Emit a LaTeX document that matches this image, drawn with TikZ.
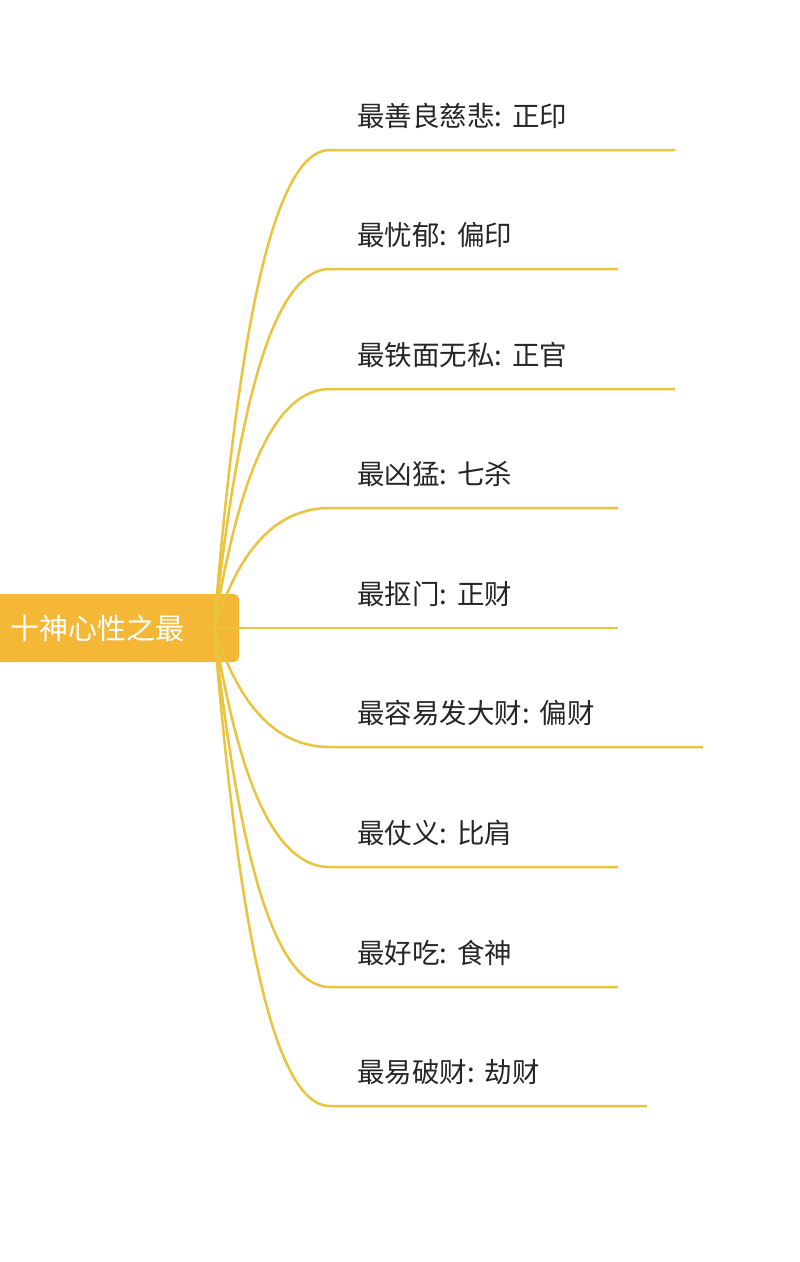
\documentclass[tikz,border=0pt]{standalone}
\usepackage{fontspec}
\setmainfont{Noto Sans CJK SC}
\definecolor{rootc}{HTML}{F5B836}
\definecolor{linec}{HTML}{E9C43C}
\newcommand{\csep}{:\hspace{10pt}}
\begin{document}
\begin{tikzpicture}[x=1pt,y=-1pt,
  branch/.style={draw=linec,line width=2.5pt},
  lbl/.style={anchor=west,font=\fontsize{27.5}{30}\selectfont,text=black!85,inner sep=0pt}]
\useasboundingbox[fill=white] (0,0) rectangle (800,1262);
\fill[rootc,rounded corners=5pt] (-10,594) rectangle (239,662);
\node[text=white,font=\fontsize{29}{32}\selectfont,anchor=west,inner sep=0pt] (root) at (10,628) {十神心性之最};
\coordinate (o) at (214,628);
\foreach \y/\e/\a/\b [count=\i] in {150/675/最善良慈悲/正印,269/618/最忧郁/偏印,389/675/最铁面无私/正官,508/618/最凶猛/七杀,628/618/最抠门/正财,747/703/最容易发大财/偏财,867/618/最仗义/比肩,987/618/最好吃/食神,1106/647/最易破财/劫财}{
  \coordinate (s\i) at (330,\y);
  \coordinate (e\i) at (\e,\y);
  \pgfmathsetmacro{\cy}{628+0.45*(\y-628)}
  \draw[branch] (o) .. controls (232,\cy) and (262,\y) .. (s\i) -- (e\i);
  \node[lbl] (l\i) at (357,\y-34) {\a\csep\b};
}
\end{tikzpicture}
\end{document}
